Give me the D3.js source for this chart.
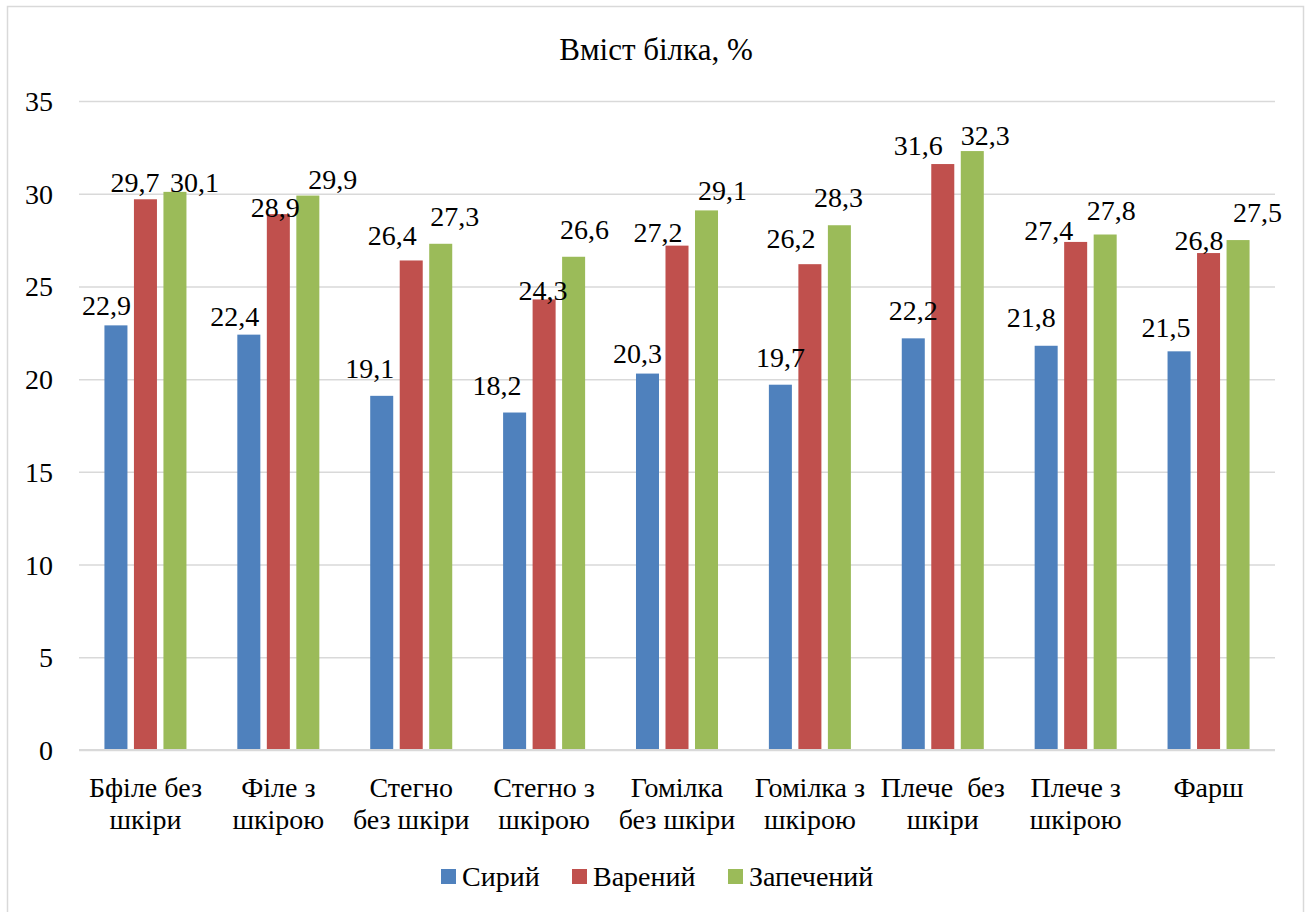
<!DOCTYPE html>
<html>
<head>
<meta charset="utf-8">
<script src="https://cdn.jsdelivr.net/npm/d3@7/dist/d3.min.js"></script>
</head>
<body style="margin:0">
<svg id="chart" width="1309" height="912"></svg>
<script>
// Protein content by cut and cooking method
const categories = [
  ["Бфіле без", "шкіри"],
  ["Філе з", "шкірою"],
  ["Стегно", "без шкіри"],
  ["Стегно з", "шкірою"],
  ["Гомілка", "без шкіри"],
  ["Гомілка з", "шкірою"],
  ["Плече\u00A0\u00A0без", "шкіри"],
  ["Плече з", "шкірою"],
  ["Фарш"]
];
const seriesNames = ["Сирий", "Варений", "Запечений"];
const raw     = [22.9, 22.4, 19.1, 18.2, 20.3, 19.7, 22.2, 21.8, 21.5];
const boiled  = [29.7, 28.9, 26.4, 24.3, 27.2, 26.2, 31.6, 27.4, 26.8];
const baked   = [30.1, 29.9, 27.3, 26.6, 29.1, 28.3, 32.3, 27.8, 27.5];
const yTicks  = [0, 5, 10, 15, 20, 25, 30, 35];
const title   = "Вміст білка, %";

const colors = ["#4F81BD", "#C0504D", "#9BBB59"];
const FACE = "\"Liberation Serif\", \"Times New Roman\", Tinos, serif";
const FS = 28;

// Hand-placed label nudges [dx, dy] (px) so neighbouring value labels don't collide
const labelNudge = [
  [[-9.5, -2], [-14, -1], [-12, -9.5], [-17.5, -9.5], [-10, -3], [0, -10], [0, -10], [-15, -11], [-13, -6.6]],
  [[-10.5, 1], [-3, 10.6], [-19, -7.5], [-1, 8.6], [-19, 4], [-19, -8], [-24.5, -1], [-27, 6], [-9.5, 5]],
  [[19.5, 8.4], [25, 1.7], [14, -9.8], [11, -9.5], [16, -2.4], [-1, -10.5], [13, 2], [6, -6.5], [19.5, -10.4]]
];

const values = [raw, boiled, baked];

// apply the serif face on each text node, both as attribute and as inline style
const serif = (sel, size) => sel
  .attr("font-family", FACE)
  .attr("font-size", size)
  .attr("fill", "#000")
  .each(function () {
    this.style.setProperty("font-family", FACE, "important");
    this.style.setProperty("font-size", size + "px", "important");
  });

const svg = d3.select("#chart");

// outer chart frame
svg.append("rect")
  .attr("x", 7.5).attr("y", 6.5)
  .attr("width", 1296).attr("height", 920)
  .attr("fill", "#fff").attr("stroke", "#d9d9d9").attr("stroke-width", 1.5);

const plot = { left: 79, right: 1275, top: 101, bottom: 750 };

const y = d3.scaleLinear().domain([0, 35]).range([plot.bottom, plot.top]);
const x0 = d3.scaleBand()
  .domain(d3.range(categories.length))
  .range([plot.left, plot.right])
  .padding(0);
const x1 = d3.scaleBand()
  .domain(d3.range(seriesNames.length))
  .range([0, x0.bandwidth()])
  .paddingInner(0.22)
  .paddingOuter(0.862);

// gridlines and value axis
const yAxis = d3.axisLeft(y).tickValues(yTicks).tickSize(-(plot.right - plot.left)).tickFormat(d => d);
const gY = svg.append("g")
  .attr("transform", `translate(${plot.left},0)`)
  .call(yAxis);
gY.attr("font-family", FACE).attr("font-size", FS);
gY.select(".domain").remove();
gY.selectAll(".tick line").attr("stroke", "#d9d9d9").attr("stroke-width", 1.5);
gY.selectAll(".tick text")
  .attr("x", -26)
  .attr("dy", "0.34em")
  .call(serif, FS);

// bars
seriesNames.forEach((name, s) => {
  svg.append("g").selectAll("rect")
    .data(values[s])
    .join("rect")
    .attr("x", (d, i) => x0(i) + x1(s))
    .attr("y", d => y(d))
    .attr("width", x1.bandwidth())
    .attr("height", d => y(0) - y(d))
    .attr("fill", colors[s]);
});

// baseline
svg.append("line")
  .attr("x1", plot.left).attr("x2", plot.right)
  .attr("y1", y(0)).attr("y2", y(0))
  .attr("stroke", "#d9d9d9").attr("stroke-width", 2);

// value labels
seriesNames.forEach((name, s) => {
  svg.append("g")
    .selectAll("text")
    .data(values[s])
    .join("text")
    .call(serif, FS)
    .attr("text-anchor", "middle")
    .attr("x", (d, i) => x0(i) + x1(s) + x1.bandwidth() / 2 + labelNudge[s][i][0])
    .attr("y", (d, i) => y(d) - 8 + labelNudge[s][i][1])
    .text(d => String(d).replace(".", ","));
});

// category labels
const catG = svg.append("g");
categories.forEach((lines, i) => {
  const cx = x0(i) + x0.bandwidth() / 2;
  lines.forEach((ln, k) => {
    catG.append("text")
      .call(serif, FS)
      .attr("text-anchor", "middle")
      .attr("x", cx)
      .attr("y", 797 + k * 32)
      .text(ln);
  });
});

// title
svg.append("text")
  .call(serif, 31)
  .attr("x", 656).attr("y", 60)
  .attr("text-anchor", "middle")
  .text(title);

// legend
const legendItems = [441, 572, 728];
const legend = svg.append("g");
seriesNames.forEach((name, s) => {
  const g = legend.append("g").attr("transform", `translate(${legendItems[s]},0)`);
  g.append("rect").attr("x", 0).attr("y", 869).attr("width", 15).attr("height", 15).attr("fill", colors[s]);
  g.append("text").call(serif, FS).attr("x", 21).attr("y", 886).text(name);
});
</script>
</body>
</html>
